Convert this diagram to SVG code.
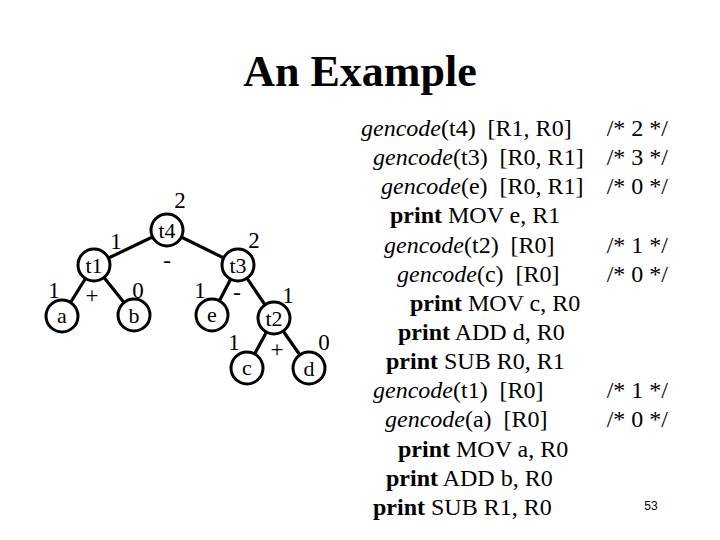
<svg xmlns="http://www.w3.org/2000/svg" width="720" height="540" viewBox="0 0 720 540">
<style>
.t{font-family:"Liberation Serif","Times New Roman",serif;fill:#000}
.title{font-size:44px;font-weight:bold;text-anchor:middle}
.n{font-size:22px;text-anchor:middle}
.l{font-size:23px;text-anchor:middle}
.c{font-size:24px;white-space:pre}
.cm{font-size:24px;white-space:pre;text-anchor:end}
.b{font-weight:bold}
.i{font-style:italic}
.node circle{fill:#fff;stroke:#000;stroke-width:3}
.edges line{stroke:#000;stroke-width:3.2}
</style>
<rect width="720" height="540" fill="#fff"/>
<text class="t title" x="360" y="86">An Example</text>
<g class="edges" id="connectors">
<line x1="167" y1="230" x2="94" y2="265"/>
<line x1="167" y1="230" x2="238" y2="265"/>
<line x1="94" y1="265" x2="62" y2="316"/>
<line x1="94" y1="265" x2="134" y2="315"/>
<line x1="238" y1="265" x2="212" y2="315"/>
<line x1="238" y1="265" x2="274" y2="318"/>
<line x1="274" y1="318" x2="247" y2="368"/>
<line x1="274" y1="318" x2="309" y2="368"/>
</g>
<g class="node" id="t4"><circle cx="167" cy="230" r="16"/><text class="t n" x="167" y="237.5">t4</text></g>
<g class="node" id="t1"><circle cx="94" cy="265" r="16"/><text class="t n" x="94" y="272.5">t1</text></g>
<g class="node" id="a"><circle cx="62" cy="316" r="16"/><text class="t n" x="62" y="323">a</text></g>
<g class="node" id="b"><circle cx="134" cy="315" r="16"/><text class="t n" x="134" y="322.5">b</text></g>
<g class="node" id="t3"><circle cx="238" cy="265" r="16"/><text class="t n" x="238" y="272.5">t3</text></g>
<g class="node" id="e"><circle cx="212" cy="315" r="16"/><text class="t n" x="212" y="322">e</text></g>
<g class="node" id="t2"><circle cx="274" cy="318" r="16"/><text class="t n" x="274" y="325.5">t2</text></g>
<g class="node" id="c"><circle cx="247" cy="368" r="16"/><text class="t n" x="247" y="375">c</text></g>
<g class="node" id="d"><circle cx="309" cy="368" r="16"/><text class="t n" x="309" y="375.5">d</text></g>
<g id="labels">
<text class="t l" x="180" y="208">2</text>
<text class="t l" x="116" y="249">1</text>
<text class="t l" x="167" y="268">-</text>
<text class="t l" x="54" y="298">1</text>
<text class="t l" x="92" y="303">+</text>
<text class="t l" x="138" y="298">0</text>
<text class="t l" x="200" y="298">1</text>
<text class="t l" x="254" y="248">2</text>
<text class="t l" x="237" y="300">-</text>
<text class="t l" x="288" y="303">1</text>
<text class="t l" x="234" y="350">1</text>
<text class="t l" x="277" y="357">+</text>
<text class="t l" x="324" y="350">0</text>
</g>
<g id="code">
<text class="t c" x="361" y="136"><tspan class="i">gencode</tspan>(t4)  [R1, R0]</text>
<text class="t c" x="373" y="165"><tspan class="i">gencode</tspan>(t3)  [R0, R1]</text>
<text class="t c" x="381" y="194"><tspan class="i">gencode</tspan>(e)  [R0, R1]</text>
<text class="t c" x="390" y="223"><tspan class="b">print</tspan> MOV e, R1</text>
<text class="t c" x="384" y="253"><tspan class="i">gencode</tspan>(t2)  [R0]</text>
<text class="t c" x="397" y="282"><tspan class="i">gencode</tspan>(c)  [R0]</text>
<text class="t c" x="410" y="311"><tspan class="b">print</tspan> MOV c, R0</text>
<text class="t c" x="398" y="340"><tspan class="b">print</tspan> ADD d, R0</text>
<text class="t c" x="386" y="369"><tspan class="b">print</tspan> SUB R0, R1</text>
<text class="t c" x="373" y="398"><tspan class="i">gencode</tspan>(t1)  [R0]</text>
<text class="t c" x="385" y="427"><tspan class="i">gencode</tspan>(a)  [R0]</text>
<text class="t c" x="398" y="457"><tspan class="b">print</tspan> MOV a, R0</text>
<text class="t c" x="386" y="486"><tspan class="b">print</tspan> ADD b, R0</text>
<text class="t c" x="373" y="515"><tspan class="b">print</tspan> SUB R1, R0</text>
<text class="t cm" x="668" y="136">/* 2 */</text>
<text class="t cm" x="668" y="165">/* 3 */</text>
<text class="t cm" x="668" y="194">/* 0 */</text>
<text class="t cm" x="668" y="253">/* 1 */</text>
<text class="t cm" x="668" y="282">/* 0 */</text>
<text class="t cm" x="668" y="398">/* 1 */</text>
<text class="t cm" x="668" y="427">/* 0 */</text>
<text x="651" y="510" font-family="Liberation Sans, Arial, sans-serif" font-size="12" text-anchor="middle">53</text>
</g>
</svg>
